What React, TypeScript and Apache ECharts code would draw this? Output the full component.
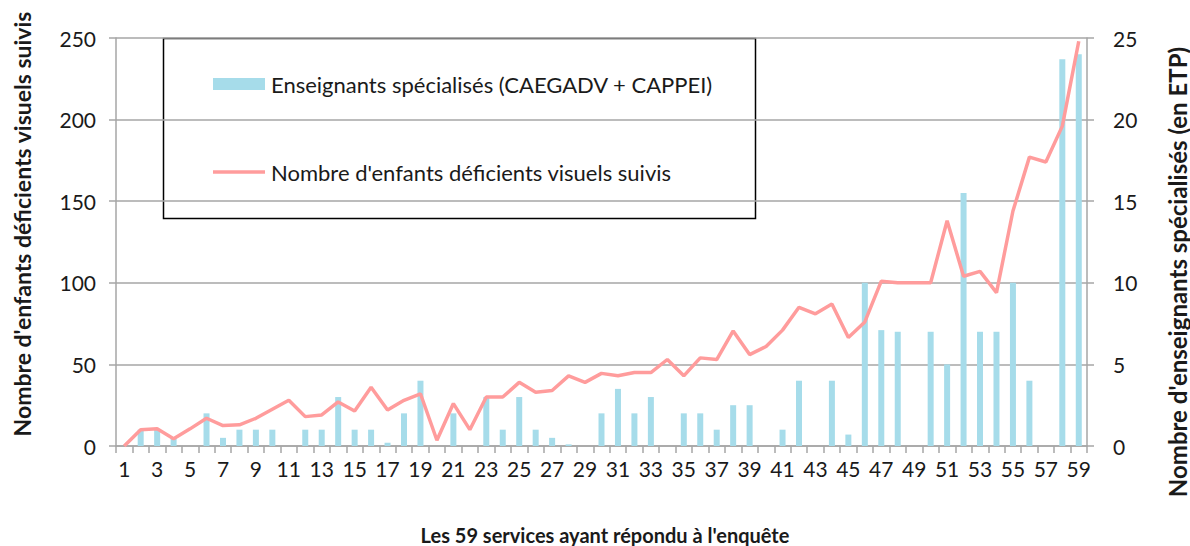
import React, { useEffect, useRef } from "react";
import * as echarts from "echarts";

const categories: string[] = Array.from({ length: 59 }, (_, i) => String(i + 1));

const teachers: number[] = [
  0, 1, 1, 0.5, 0, 2, 0.5, 1, 1, 1,
  0, 1, 1, 3, 1, 1, 0.2, 2, 4, 0,
  2, 0, 3, 1, 3, 1, 0.5, 0.1, 0, 2,
  3.5, 2, 3, 0, 2, 2, 1, 2.5, 2.5, 0,
  1, 4, 0, 4, 0.7, 10, 7.1, 7, 0, 7,
  5, 15.5, 7, 7, 10, 4, 0, 23.7, 24,
];

const children: number[] = [
  0, 10, 10.5, 4.5, 10.5, 17, 12.5, 13, 17, 22.5,
  28, 18, 19, 27, 21.5, 36, 22, 28, 32, 3.5,
  26, 10, 30, 30, 39, 33, 34, 43, 39, 44.5,
  43, 45, 45, 53, 43, 54, 53, 70.5, 56, 61,
  71, 85, 81, 87, 66.5, 76, 101, 100, 100, 100,
  138, 104, 107, 94, 144, 177, 174, 196, 248,
];

const leftTicks = { min: 0, max: 250, interval: 50 };
const rightTicks = { min: 0, max: 25, interval: 5 };

const barName = "Enseignants spécialisés (CAEGADV + CAPPEI)";
const lineName = "Nombre d'enfants déficients visuels suivis";
const leftTitle = "Nombre d'enfants déficients visuels suivis";
const rightTitle = "Nombre d'enseignants spécialisés (en ETP)";
const xTitle = "Les 59 services ayant répondu à l'enquête";

const FONT = "Lato";
const TXT = "#1a1a1a";
const GRID = "#a6a6a6";

export default function App() {
  const ref = useRef<HTMLDivElement>(null);
  useEffect(() => {
    if (!ref.current) return;
    const chart = echarts.init(ref.current, undefined, { renderer: "svg" });
    chart.setOption({
      animation: false,
      backgroundColor: "#ffffff",
      textStyle: { fontFamily: FONT, color: TXT },
      grid: { left: 116, right: 103, top: 38, bottom: 100, containLabel: false },
      xAxis: {
        type: "category",
        data: categories,
        boundaryGap: true,
        axisLine: { show: true, lineStyle: { color: GRID, width: 1.5 } },
        axisTick: { show: true, interval: 0, length: 7, lineStyle: { color: GRID, width: 1.5 } },
        axisLabel: { interval: 1, fontSize: 21, color: TXT, margin: 12, fontFamily: FONT },
        splitLine: { show: false },
      },
      yAxis: [
        {
          type: "value",
          ...leftTicks,
          axisLine: { show: true, lineStyle: { color: GRID, width: 1.5 } },
          axisTick: { show: true, length: 7, lineStyle: { color: GRID, width: 1.5 } },
          axisLabel: { fontSize: 21, color: TXT, margin: 20, fontFamily: FONT },
          splitLine: { show: true, lineStyle: { color: GRID, width: 1.5 } },
        },
        {
          type: "value",
          ...rightTicks,
          position: "right",
          axisLine: { show: true, lineStyle: { color: GRID, width: 1.5 } },
          axisTick: { show: true, length: 7, lineStyle: { color: GRID, width: 1.5 } },
          axisLabel: { fontSize: 21, color: TXT, margin: 26, fontFamily: FONT },
          splitLine: { show: false },
        },
      ],
      legend: [
        {
          data: [{ name: barName, icon: "rect" }],
          left: 213,
          top: 73,
          padding: 0,
          itemWidth: 52,
          itemHeight: 12,
          itemGap: 6,
          textStyle: { fontSize: 22, color: TXT, fontFamily: FONT, lineHeight: 22, padding: [0, 0, 0, 1] },
          selectedMode: false,
        },
        {
          data: [{ name: lineName, icon: "rect" }],
          left: 213,
          top: 161,
          padding: 0,
          itemWidth: 52,
          itemHeight: 3.5,
          itemGap: 6,
          textStyle: { fontSize: 22, color: TXT, fontFamily: FONT, lineHeight: 22, padding: [0, 0, 0, 1] },
          selectedMode: false,
        },
      ],
      graphic: [
        {
          type: "rect",
          z: -1,
          zlevel: 0,
          shape: { x: 163.5, y: 38.5, width: 592, height: 180 },
          style: { fill: "#ffffff", stroke: "#000000", lineWidth: 1.5 },
          silent: true,
        },
        {
          type: "text",
          x: 22,
          y: 224,
          rotation: Math.PI / 2,
          style: {
            text: leftTitle,
            fontSize: 23,
            fontWeight: "bold",
            fontFamily: FONT,
            fill: TXT,
            textAlign: "center",
            textVerticalAlign: "middle",
          },
        },
        {
          type: "text",
          x: 1177,
          y: 272,
          rotation: Math.PI / 2,
          style: {
            text: rightTitle,
            fontSize: 24,
            fontWeight: "bold",
            fontFamily: FONT,
            fill: TXT,
            textAlign: "center",
            textVerticalAlign: "middle",
          },
        },
        {
          type: "text",
          x: 605,
          y: 535,
          style: {
            text: xTitle,
            fontSize: 20,
            fontWeight: "bold",
            fontFamily: FONT,
            fill: TXT,
            textAlign: "center",
            textVerticalAlign: "middle",
          },
        },
      ],
      series: [
        {
          name: barName,
          type: "bar",
          yAxisIndex: 1,
          data: teachers,
          barWidth: 6,
          itemStyle: { color: "#a6dcea" },
          z: 2,
        },
        {
          name: lineName,
          type: "line",
          yAxisIndex: 0,
          data: children,
          symbol: "none",
          showSymbol: false,
          lineStyle: { color: "#ff9c9c", width: 3.5 },
          itemStyle: { color: "#ff9c9c" },
          z: 3,
        },
      ],
    });
    return () => chart.dispose();
  }, []);
  return <div ref={ref} style={{ width: 1190, height: 546, position: "absolute", left: 0, top: 0 }} />;
}
